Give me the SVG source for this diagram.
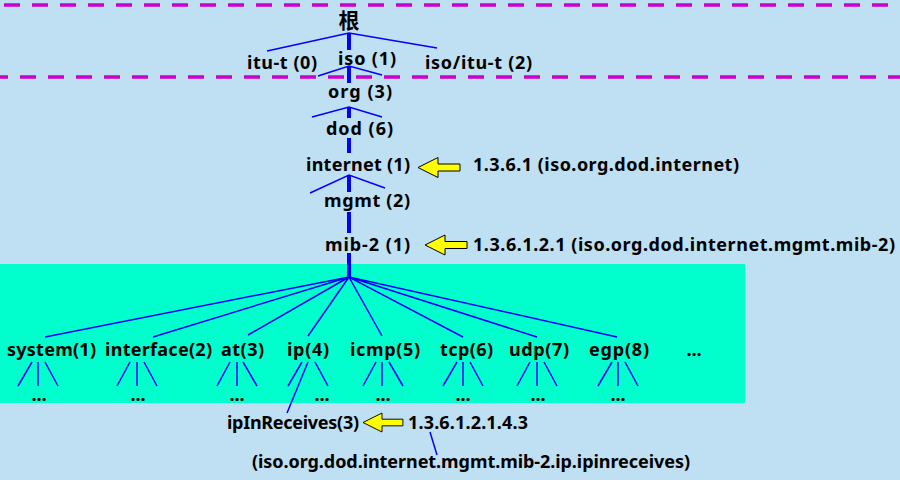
<svg xmlns="http://www.w3.org/2000/svg" width="900" height="480" viewBox="0 0 900 480">
<style>
text{font-family:"Noto Sans","Noto Sans CJK SC",sans-serif;font-weight:bold;font-size:18px;fill:#000}
.cjk{font-family:"Noto Sans CJK SC",sans-serif;font-size:21px}
.thin{stroke:#0000FF;stroke-width:1.5;fill:none}
.trunk{stroke:#0000FF;stroke-width:4;fill:none}
.dash{stroke:#CC00CC;stroke-width:3.5;stroke-dasharray:16 12;fill:none}
.arrow{fill:#FFFF00;stroke:#000;stroke-width:1}
</style>
<defs>
<polygon id="arr" class="arrow" points="0,0 20,-10 20,-3.5 42,-3.5 42,3.5 20,3.5 20,10"/>
</defs>
<rect width="900" height="480" fill="#BFDFF2"/>
<rect x="0" y="264" width="745" height="139" fill="#00FFCC"/>
<line class="dash" x1="-24" y1="5" x2="890" y2="5"/>
<line class="dash" x1="-8" y1="77" x2="900" y2="77"/>
<g id="connectors">
<path class="trunk" d="M349,33V50M349,66V83M349,107V118M349,138V153M349,175V192M349,212V233M349,253V278"/>
<path class="thin" d="M267,51L349,33L437,48M318,76L349,66L382,75M312,117L349,107L382,117M310,193L349,175L385,188"/>
<path class="thin" d="M45,337L349,277L153,337M248,335L349,277L308,336M382,336L349,277L463,337M537,337L349,277L617,337"/>
<path class="thin" d="M32,362L18,386M38,362V386M45,362L58,386"/>
<path class="thin" d="M130,362L117,386M137,362V386M144,362L157,386"/>
<path class="thin" d="M230,362L217,386M237,362V386M243,362L257,386"/>
<path class="thin" d="M302,362L288,386M308,362L287,413M315,362L328,386"/>
<path class="thin" d="M376,362L363,386M382,362V386M389,362L403,386"/>
<path class="thin" d="M457,362L443,386M463,362V386M470,362L483,386"/>
<path class="thin" d="M530,362L517,386M537,362V386M544,362L557,386"/>
<path class="thin" d="M612,362L598,386M618,362V386M625,362L638,386"/>
<path class="thin" d="M430,432L437,455"/>
<use href="#arr" x="418" y="167.5"/>
<use href="#arr" x="425" y="245"/>
<use href="#arr" x="363" y="422.5" transform="translate(363,422.5) scale(0.95) translate(-363,-422.5)"/>
</g>
<g id="root"><text class="cjk" x="349" y="28" text-anchor="middle">根</text></g>
<g id="itu"><text x="247" y="69" textLength="70">itu-t (0)</text></g>
<g id="iso"><text x="338" y="65" textLength="58">iso (1)</text></g>
<g id="isoitu"><text x="425" y="69" textLength="107">iso/itu-t (2)</text></g>
<g id="org"><text x="328" y="98" textLength="64">org (3)</text></g>
<g id="dod"><text x="326" y="135" textLength="67">dod (6)</text></g>
<g id="internet"><text x="306" y="171" textLength="104">internet (1)</text></g>
<g id="mgmt"><text x="324" y="207" textLength="86">mgmt (2)</text></g>
<g id="mib2"><text x="325" y="251" textLength="85">mib-2 (1)</text></g>
<g id="system"><text x="7" y="356" textLength="89">system(1)</text><text x="39" y="401" text-anchor="middle">...</text></g>
<g id="interface"><text x="105" y="356" textLength="107">interface(2)</text><text x="138" y="401" text-anchor="middle">...</text></g>
<g id="at"><text x="221" y="356" textLength="43">at(3)</text><text x="237" y="401" text-anchor="middle">...</text></g>
<g id="ip"><text x="287" y="356" textLength="42">ip(4)</text><text x="322" y="401" text-anchor="middle">...</text></g>
<g id="icmp"><text x="350" y="356" textLength="70">icmp(5)</text><text x="383" y="401" text-anchor="middle">...</text></g>
<g id="tcp"><text x="440" y="356" textLength="53">tcp(6)</text><text x="463" y="401" text-anchor="middle">...</text></g>
<g id="udp"><text x="509" y="356" textLength="60">udp(7)</text><text x="538" y="401" text-anchor="middle">...</text></g>
<g id="egp"><text x="589" y="356" textLength="60">egp(8)</text><text x="618" y="401" text-anchor="middle">...</text></g>
<g id="more"><text x="694" y="356" text-anchor="middle">...</text></g>
<g id="ipInReceives"><text x="227" y="429" textLength="132">ipInReceives(3)</text></g>
<g id="labels">
<text x="473" y="171" textLength="266">1.3.6.1 (iso.org.dod.internet)</text>
<text x="473" y="251" textLength="422">1.3.6.1.2.1 (iso.org.dod.internet.mgmt.mib-2)</text>
<text x="408" y="429" textLength="120">1.3.6.1.2.1.4.3</text>
<text x="252" y="468" textLength="438">(iso.org.dod.internet.mgmt.mib-2.ip.ipinreceives)</text>
</g>
</svg>
